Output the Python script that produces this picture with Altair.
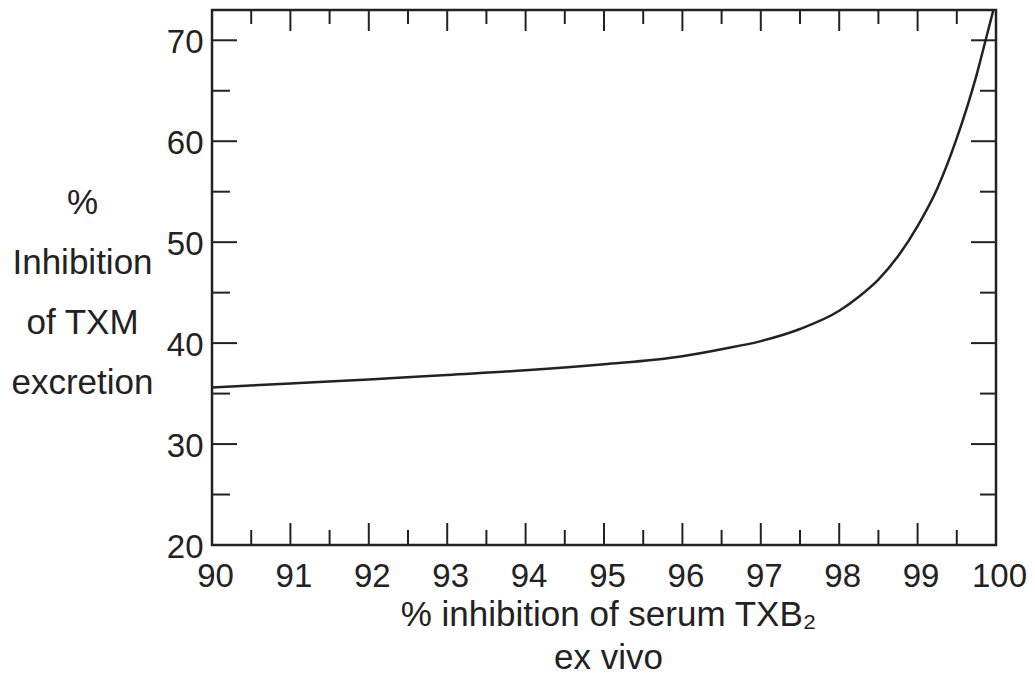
import altair as alt
import pandas as pd

# Curve
x_vals = [90, 91, 92, 93, 94, 95, 96, 96.5, 97, 97.5, 98, 98.25, 98.5, 98.75, 99, 99.25, 99.5, 99.75, 99.9, 100]
y_vals = [35.6, 36.0, 36.4, 36.85, 37.3, 37.9, 38.7, 39.4, 40.2, 41.4, 43.2, 44.6, 46.3, 48.6, 51.6, 55.3, 60.3, 66.5, 71.0, 74.0]

# Tick positions
x_major = [90, 91, 92, 93, 94, 95, 96, 97, 98, 99, 100]
x_minor = [90.5, 91.5, 92.5, 93.5, 94.5, 95.5, 96.5, 97.5, 98.5, 99.5]
y_major = [20, 30, 40, 50, 60, 70]
y_minor = [25, 35, 45, 55, 65]

x_title = ["% inhibition of serum TXB\u2082", "ex vivo"]
y_title = ["%", "Inhibition", "of TXM", "excretion"]

W, H = 784, 535
INK = "#222222"
FONT = "Liberation Sans"

xs = alt.Scale(domain=[90, 100], nice=False, zero=False)
ys = alt.Scale(domain=[20, 73], nice=False, zero=False)

curve = pd.DataFrame({"x": x_vals, "y": y_vals})

line = alt.Chart(curve).mark_line(interpolate="monotone", color=INK, strokeWidth=2.5, clip=True).encode(
    x=alt.X("x:Q", scale=xs, axis=alt.Axis(
        values=x_major, format="d", ticks=False, domain=False, grid=False,
        labelFont=FONT, labelFontSize=33, labelColor=INK, labelPadding=15, labelOffset=3,
        labelFlush=False, labelOverlap=False,
        title=x_title, titleFont=FONT, titleFontSize=35, titleFontWeight="normal",
        titleColor=INK, titleLineHeight=43, titleBaseline="alphabetic",
        titleAlign="center", titleX=396, titleY=80)),
    y=alt.Y("y:Q", scale=ys, axis=alt.Axis(
        values=y_major, format="d", ticks=False, domain=False, grid=False,
        labelFont=FONT, labelFontSize=33, labelColor=INK, labelPadding=9, labelOffset=2,
        labelFlush=False, labelOverlap=False,
        title=y_title, titleFont=FONT, titleFontSize=35, titleFontWeight="normal",
        titleColor=INK, titleLineHeight=60, titleAngle=0, titleBaseline="alphabetic",
        titleAlign="center", titleX=-130, titleY=203.5)),
)


def xticks(vals, y0, y1):
    return alt.Chart(pd.DataFrame({"x": vals})).mark_rule(color=INK, strokeWidth=2).encode(
        x=alt.X("x:Q", scale=xs), y=alt.value(y0), y2=alt.value(y1))


def yticks(vals, x0, x1):
    return alt.Chart(pd.DataFrame({"y": vals})).mark_rule(color=INK, strokeWidth=2).encode(
        y=alt.Y("y:Q", scale=ys), x=alt.value(x0), x2=alt.value(x1))


layers = [
    line,
    xticks(x_major, H, H - 22), xticks(x_minor, H, H - 15),
    xticks(x_major, 0, 21), xticks(x_minor, 0, 14),
    yticks(y_major, 0, 25), yticks(y_minor, 0, 18),
    yticks(y_major, W, W - 25), yticks(y_minor, W, W - 16),
]

chart = alt.layer(*layers).properties(
    width=W, height=H,
    autosize=alt.AutoSizeParams(type="none"),
    padding={"left": 204, "top": 2, "right": 31, "bottom": 132},
    background="white",
).configure_view(stroke=INK, strokeWidth=2.5)

chart.save("out.html", embed_options={"renderer": "svg", "actions": False})
